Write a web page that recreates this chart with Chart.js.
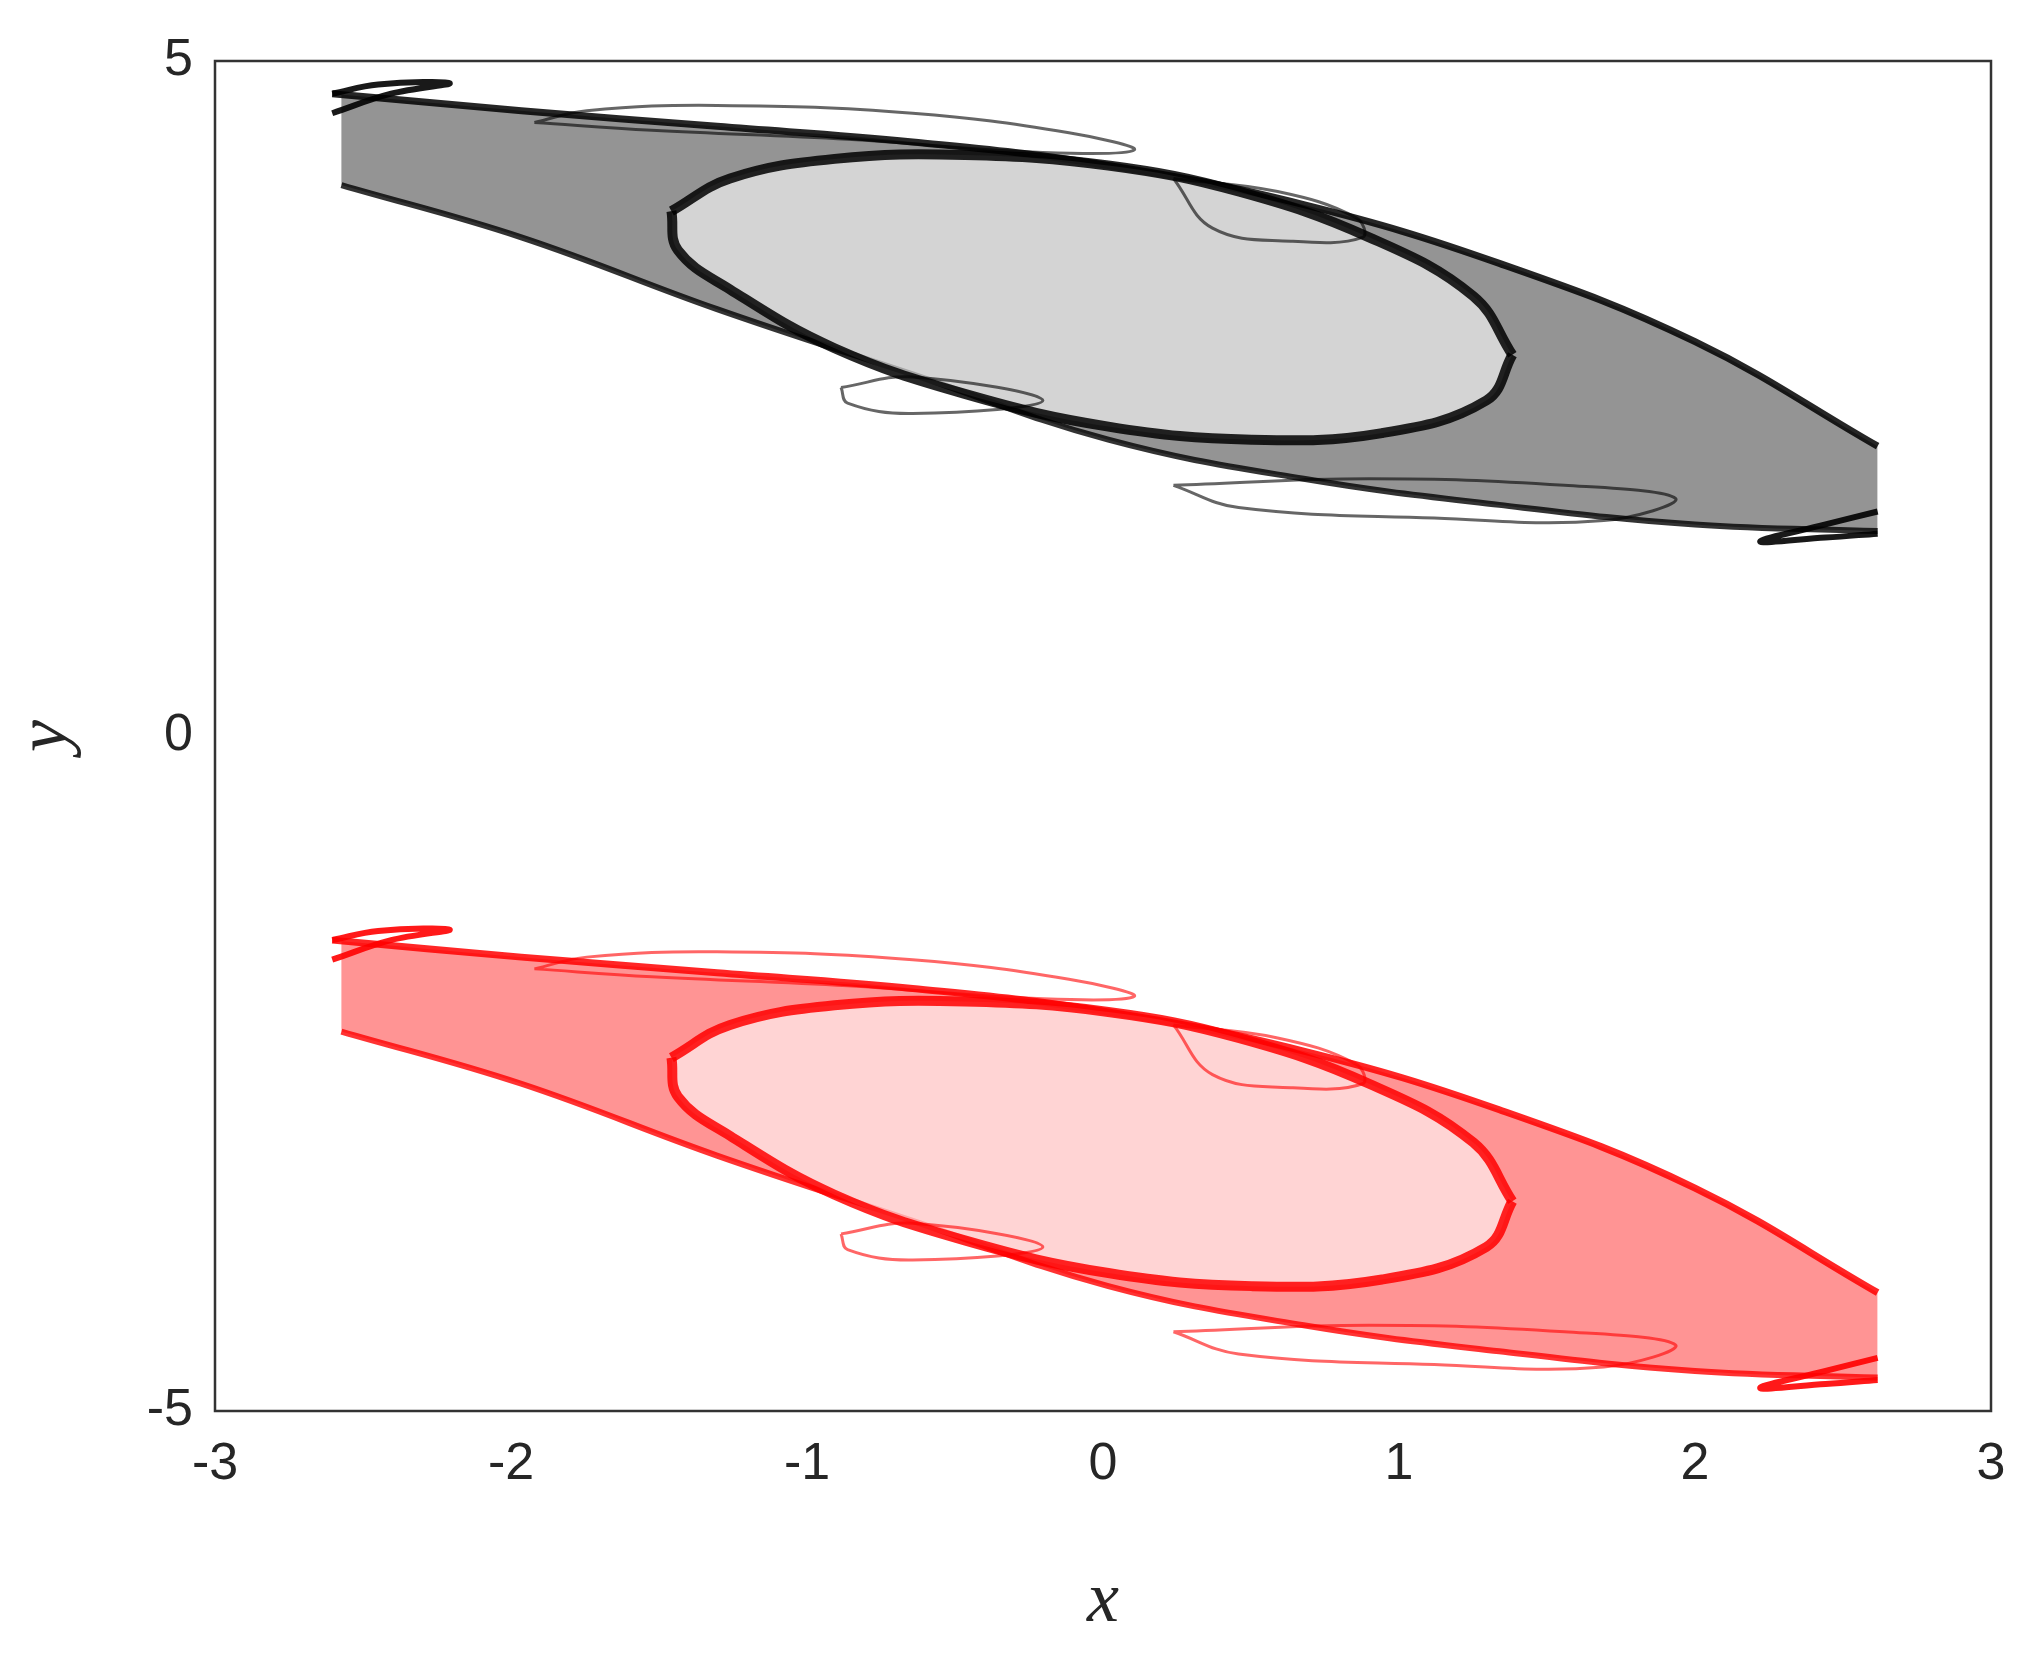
<!DOCTYPE html>
<html>
<head>
<meta charset="utf-8">
<script src="https://cdn.jsdelivr.net/npm/chart.js@4"></script>
<style>
  html, body { margin: 0; padding: 0; background: #fff; }
  #wrap { width: 2043px; height: 1671px; }
</style>
</head>
<body>
<div id="wrap"><canvas id="myChart"></canvas></div>
<script>
// traced outlines of the upper (black) attractor
const bandX       = [-2.604, -1.965, -1.304, -0.643, 0.018, 0.678, 1.339, 2.000, 2.617];
const bandTopY    = [4.758, 4.632, 4.516, 4.400, 4.226, 3.936, 3.501, 2.921, 2.147];
const bandBottomX = [-2.573, -1.965, -1.304, -0.643, 0.018, 0.678, 1.339, 2.000, 2.617];
const bandBottomY = [4.081, 3.694, 3.162, 2.679, 2.195, 1.905, 1.712, 1.567, 1.518];
const ringTopX = [-1.458, -1.260, -0.907, -0.467, 0.018, 0.458, 0.899, 1.251, 1.383];
const ringTopY = [3.888, 4.130, 4.275, 4.304, 4.226, 4.033, 3.694, 3.259, 2.824];
const ringLowX = [-1.458, -1.436, -1.260, -0.907, -0.467, 0.018, 0.502, 0.943, 1.295, 1.383];
const ringLowY = [3.888, 3.598, 3.308, 2.872, 2.534, 2.292, 2.195, 2.244, 2.485, 2.824];
const topLobeX = [-1.921, -1.744, -1.304, -0.643, -0.115, 0.106, -0.203, -0.863, -1.524, -1.921];
const topLobeY = [4.545, 4.632, 4.671, 4.613, 4.468, 4.342, 4.323, 4.420, 4.487, 4.545];
const rightLobeX = [0.238, 0.590, 0.855, 0.877, 0.634, 0.370, 0.238];
const rightLobeY = [4.130, 4.033, 3.839, 3.694, 3.665, 3.762, 4.130];
const leftLobeX = [-0.885, -0.643, -0.203, -0.643, -0.863, -0.885];
const leftLobeY = [2.582, 2.660, 2.485, 2.389, 2.466, 2.582];
const lowLobeX = [0.238, 0.899, 1.559, 1.934, 1.692, 1.119, 0.458, 0.238];
const lowLobeY = [1.857, 1.905, 1.857, 1.760, 1.596, 1.615, 1.692, 1.857];
const topHookX = [-2.604, -2.449, -2.207, -2.405, -2.604];
const topHookY = [4.758, 4.826, 4.836, 4.758, 4.613];
const lowHookX = [2.617, 2.441, 2.220, 2.441, 2.617];
const lowHookY = [1.663, 1.567, 1.441, 1.470, 1.499];

// traced outlines of the lower (red) attractor
const redBandTopY    = [-1.512, -1.638, -1.754, -1.870, -2.044, -2.334, -2.769, -3.349, -4.123];
const redBandBottomY = [-2.189, -2.576, -3.108, -3.591, -4.075, -4.365, -4.558, -4.703, -4.752];
const redRingTopY = [-2.382, -2.140, -1.995, -1.966, -2.044, -2.237, -2.576, -3.011, -3.446];
const redRingLowY = [-2.382, -2.672, -2.962, -3.398, -3.736, -3.978, -4.075, -4.026, -3.785, -3.446];
const redTopLobeY = [-1.725, -1.638, -1.599, -1.657, -1.802, -1.928, -1.947, -1.850, -1.783, -1.725];
const redRightLobeY = [-2.140, -2.237, -2.431, -2.576, -2.605, -2.508, -2.140];
const redLeftLobeY = [-3.688, -3.610, -3.785, -3.881, -3.804, -3.688];
const redLowLobeY = [-4.413, -4.365, -4.413, -4.510, -4.674, -4.655, -4.578, -4.413];
const redTopHookY = [-1.512, -1.444, -1.434, -1.512, -1.657];
const redLowHookY = [-4.607, -4.703, -4.829, -4.800, -4.771];

const xTicks = [-3, -2, -1, 0, 1, 2, 3];
const yTicks = [-5, 0, 5];

function pts(xs, ys) {
    return xs.map((x, i) => ({ x: x, y: ys[i] }));
}

function attractor(c, ys) {
    const line = (data, w, a) => ({
        data: data, showLine: true, pointRadius: 0, borderWidth: w,
        borderColor: 'rgba(' + c + ',' + a + ')', fill: false, tension: 0.4, order: 0
    });
    const ringTop = line(pts(ringTopX, ys.ringTop), 10, 0.85);
    ringTop.fill = '+1';
    ringTop.backgroundColor = 'rgba(255,255,255,0.6)';
    ringTop.order = 1;
    const band = line(pts(bandX, ys.top), 7, 0.85);
    band.fill = '+1';
    band.backgroundColor = 'rgba(' + c + ',0.42)';
    band.order = 3;
    const bandLow = line(pts(bandBottomX, ys.bottom), 6, 0.8);
    bandLow.order = 2;
    return [
        band,
        bandLow,
        ringTop,
        line(pts(ringLowX, ys.ringLow), 10, 0.85),
        line(pts(topLobeX, ys.topLobe), 3, 0.6),
        line(pts(rightLobeX, ys.rightLobe), 3, 0.6),
        line(pts(leftLobeX, ys.leftLobe), 3, 0.6),
        line(pts(lowLobeX, ys.lowLobe), 3, 0.6),
        line(pts(topHookX, ys.topHook), 6, 0.9),
        line(pts(lowHookX, ys.lowHook), 6, 0.9)
    ];
}

const blackSets = attractor('0,0,0', {
    top: bandTopY, bottom: bandBottomY, ringTop: ringTopY, ringLow: ringLowY,
    topLobe: topLobeY, rightLobe: rightLobeY, leftLobe: leftLobeY, lowLobe: lowLobeY,
    topHook: topHookY, lowHook: lowHookY
});
const redSets = attractor('255,0,0', {
    top: redBandTopY, bottom: redBandBottomY, ringTop: redRingTopY, ringLow: redRingLowY,
    topLobe: redTopLobeY, rightLobe: redRightLobeY, leftLobe: redLeftLobeY, lowLobe: redLowLobeY,
    topHook: redTopHookY, lowHook: redLowHookY
});

const frame = {
    id: 'frame',
    afterDraw(chart) {
        const a = chart.chartArea, g = chart.ctx;
        g.save();
        g.strokeStyle = '#333';
        g.lineWidth = 2.5;
        g.strokeRect(a.left, a.top, a.right - a.left, a.bottom - a.top);
        g.restore();
    }
};

const ctx = document.getElementById('myChart');
new Chart(ctx, {
    type: 'scatter',
    data: { datasets: blackSets.concat(redSets) },
    options: {
        responsive: true,
        maintainAspectRatio: false,
        animation: false,
        layout: { padding: { top: 61, right: 52, left: 0, bottom: 22 } },
        plugins: { legend: { display: false }, tooltip: { enabled: false } },
        scales: {
            x: {
                min: -3, max: 3,
                afterBuildTicks: s => { s.ticks = xTicks.map(v => ({ value: v })); },
                afterFit: s => { s.height = 238; },
                grid: { display: false },
                border: { display: false },
                ticks: { color: '#262626', font: { family: 'Liberation Sans', size: 52 }, padding: 14 },
                title: { display: true, text: 'x', color: '#262626',
                         font: { family: 'Liberation Serif', size: 72, style: 'italic' }, padding: { top: 0 } }
            },
            y: {
                min: -5, max: 5,
                afterBuildTicks: s => { s.ticks = yTicks.map(v => ({ value: v })); },
                afterFit: s => { s.width = 215; },
                grid: { display: false },
                border: { display: false },
                ticks: { color: '#262626', font: { family: 'Liberation Sans', size: 52 }, padding: 14 },
                title: { display: true, text: 'y', color: '#262626',
                         font: { family: 'Liberation Serif', size: 72, style: 'italic' } }
            }
        }
    },
    plugins: [frame]
});
</script>
</body>
</html>
